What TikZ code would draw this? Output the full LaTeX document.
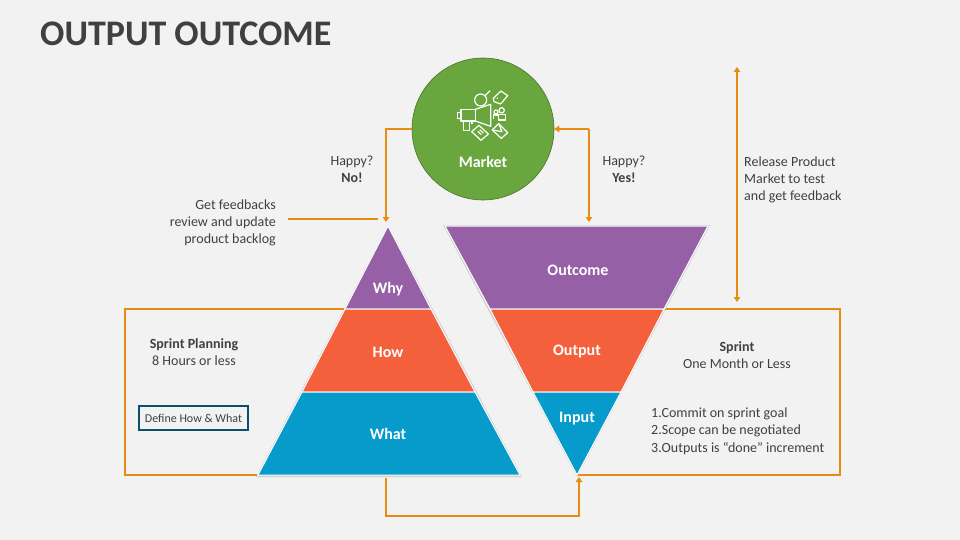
\documentclass[tikz,border=0pt]{standalone}
\usepackage{fontspec}
\setmainfont{Carlito}
\usetikzlibrary{arrows.meta,calc,positioning}
\definecolor{pagegrey}{HTML}{F2F2F2}
\definecolor{inkgrey}{HTML}{404040}
\definecolor{linkorange}{HTML}{E88B12}
\definecolor{bandpurple}{HTML}{9560A5}
\definecolor{bandred}{HTML}{F45F3C}
\definecolor{bandblue}{HTML}{079BCB}
\definecolor{marketgreen}{HTML}{6AA63E}
\definecolor{tagblue}{HTML}{0B4F6C}
\tikzset{
  link/.style={draw=linkorange,line width=1.8pt},
  tip/.style={link,-{Triangle[length=5pt,width=6.5pt]}},
  bothtip/.style={link,{Triangle[length=5pt,width=6.5pt]}-{Triangle[length=5pt,width=6.5pt]}},
  band/.style={draw=white,line width=1pt,line join=miter},
  bandtext/.style={text=white,font=\bfseries\fontsize{16}{18}\selectfont},
  note/.style={text=inkgrey,font=\fontsize{14}{17.3}\selectfont,align=center},
  icon/.style={draw=white,line width=1.2pt,line join=round}
}
\begin{document}
\begin{tikzpicture}[x=1pt,y=-1pt]
   \useasboundingbox (0,0) rectangle (960,540);
   \fill[pagegrey] (0,0) rectangle (960,540);
   \node[anchor=west,text=inkgrey,inner sep=0pt,font=\bfseries\fontsize{36}{42}\selectfont] (title) at (40,34) {OUTPUT OUTCOME};
   % corner points of the two triangles
   \coordinate (pa) at (388,226);
   \coordinate (pl1) at (345,309); \coordinate (pr1) at (431,309);
   \coordinate (pl2) at (302,392); \coordinate (pr2) at (475,392);
   \coordinate (pl3) at (258,475); \coordinate (pr3) at (520,475);
   \coordinate (va) at (577,475);
   \coordinate (vl1) at (533,392); \coordinate (vr1) at (621,392);
   \coordinate (vl2) at (490,309); \coordinate (vr2) at (664,309);
   \coordinate (vl3) at (445,226); \coordinate (vr3) at (708,226);
   % sprint boxes
   \coordinate (bl1) at (125,309); \coordinate (bl2) at (125,475);
   \coordinate (br1) at (840,309); \coordinate (br2) at (840,475);
   \draw[link] (pl1) -- (bl1) -- (bl2) -- (pl3);
   \draw[link] (vr2) -- (br1) -- (br2) -- (va);
   % shadows
   \fill[black!18] ($(pa)+(0,-1)$) -- ($(pr3)+(2,2)$) -- ($(pl3)+(-2,2)$) -- cycle;
   \fill[black!18] ($(vl3)+(-2,-1)$) -- ($(vr3)+(2,-1)$) -- ($(va)+(0,2)$) -- cycle;
   % pyramid
   \filldraw[band,fill=bandpurple] (pa) -- (pr1) -- (pl1) -- cycle;
   \filldraw[band,fill=bandred] (pl1) -- (pr1) -- (pr2) -- (pl2) -- cycle;
   \filldraw[band,fill=bandblue] (pl2) -- (pr2) -- (pr3) -- (pl3) -- cycle;
   \node[bandtext] (why) at (388,289) {Why};
   \node[bandtext] (how) at (388,352) {How};
   \node[bandtext] (what) at (388,434) {What};
   % funnel
   \filldraw[band,fill=bandpurple] (vl3) -- (vr3) -- (vr2) -- (vl2) -- cycle;
   \filldraw[band,fill=bandred] (vl2) -- (vr2) -- (vr1) -- (vl1) -- cycle;
   \filldraw[band,fill=bandblue] (vl1) -- (vr1) -- (va) -- cycle;
   \node[bandtext] (outcome) at (578,270) {Outcome};
   \node[bandtext] (output) at (577,352) {Output};
   \node[bandtext] (input) at (577,419) {Input};
   % market
   \node[circle,minimum size=142pt,inner sep=0pt,fill=marketgreen,draw=marketgreen!70!black,line width=.6pt] (market) at (483,129) {};
   \node[bandtext] (marketlabel) at (483,162) {Market};
   \begin{scope}[shift={(410,65)},x=.3333pt,y=-.3333pt,icon]
      \draw (212,105) circle (18);
      \draw (225,92) -- (240,77);
      \draw (250,100) -- (273,78) -- (293,92) -- (272,117) -- (252,110) -- cycle;
      \fill[white] (262,100) circle (2.500);
      \draw (142,143) -- (153,143) -- (153,160) -- (142,160) -- cycle;
      \draw (153,133) -- (196,133) -- (196,168) -- (153,168) -- cycle;
      \draw (196,133) -- (242,118) -- (242,184) -- (196,168);
      \draw (160,168) -- (160,196) -- (178,196) -- (178,168);
      \draw (186,168) -- (186,178);
      \draw (275,136) circle (8);
      \draw (258,141) circle (6);
      \draw (266,148) -- (287,148) -- (287,165) -- (266,165) -- cycle;
      \draw (250,162) -- (250,150) -- (266,150);
      \draw (185,200) -- (207,181) -- (235,207) -- (213,226) -- cycle;
      \draw (203,199) -- (214,209); \draw (209,194) -- (220,204);
      \draw (247,195) -- (266,176) -- (293,203) -- (274,220) -- cycle;
      \draw (247,195) -- (276,200) -- (266,176);
   \end{scope}
   % connectors
   \coordinate (leftdrop) at (386,222);
   \coordinate (rightdrop) at (589,222);
   \coordinate (rightbend) at (589,129);
   \draw[tip] (market.west) -- (386,129) -- (leftdrop);
   \draw[tip] (rightbend) -- (market.east);
   \draw[tip] (rightbend) -- (rightdrop);
   \coordinate (feedstart) at (288,219); \coordinate (feedend) at (378,219);
   \draw[link] (feedstart) -- (feedend);
   \coordinate (reltop) at (737,67); \coordinate (relbot) at (737,302);
   \draw[bothtip] (reltop) -- (relbot);
   \coordinate (loopstart) at (386,478); \coordinate (loopend) at (579,477);
   \draw[tip] (loopstart) -- (386,516) -- (579,516) -- (loopend);
   % texts
   \node[note] (nohappy) at (352,169) {Happy?\\\textbf{No!}};
   \node[note] (yeshappy) at (624,169) {Happy?\\\textbf{Yes!}};
   \node[note,anchor=east,align=right,inner sep=0pt] (feedback) at (276,223) {Get feedbacks\\review and update\\product backlog};
   \node[note,anchor=west,align=left,inner sep=0pt] (release) at (744,180) {Release Product\\Market to test\\and get feedback};
   \node[note] (planning) at (194,352) {\textbf{Sprint Planning}\\8 Hours or less};
   \node[note,draw=tagblue,line width=1.5pt,font=\fontsize{12}{14}\selectfont,minimum width=109pt,minimum height=24pt,inner sep=0pt] (define) at (193.500,418) {Define How \& What};
   \node[note] (sprint) at (737,355) {\textbf{Sprint}\\One Month or Less};
   \node[note,anchor=west,align=left,inner sep=0pt] (steps) at (651,431) {1.Commit on sprint goal\\2.Scope can be negotiated\\3.Outputs is “done” increment};
\end{tikzpicture}
\end{document}
